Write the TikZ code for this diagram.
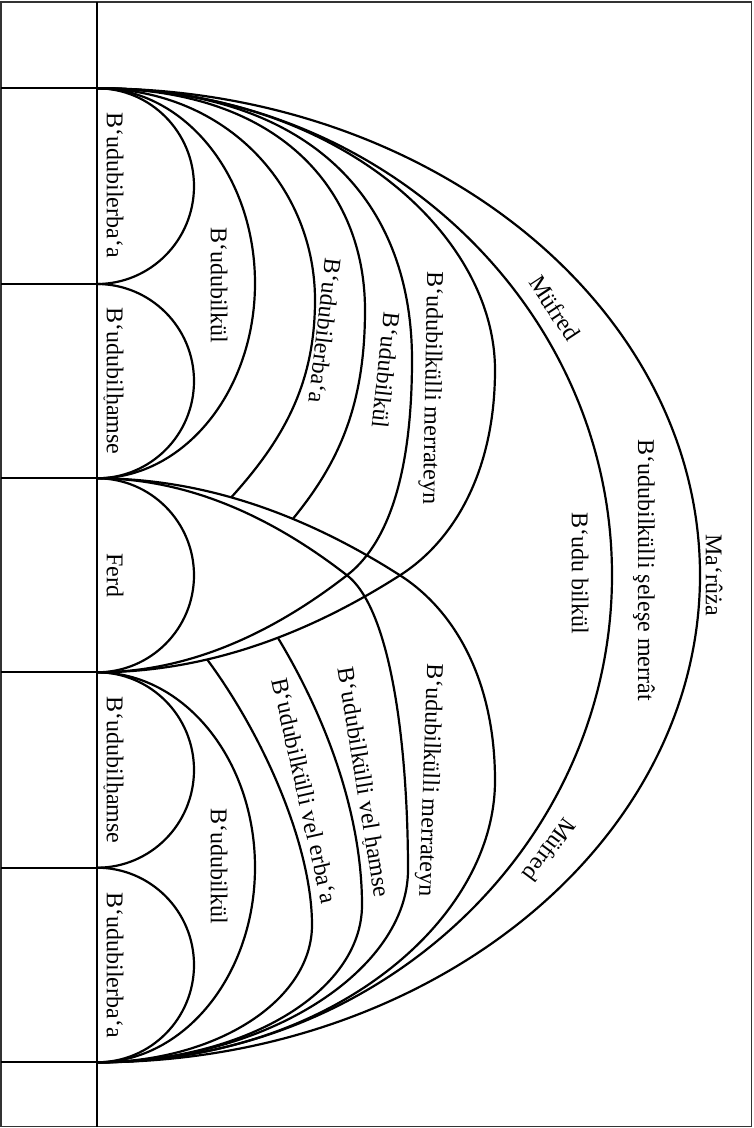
\documentclass[tikz,border=0pt]{standalone}
\usepackage{fontspec}
\setmainfont{Liberation Serif}
\newcommand\ay{‘}
\newcommand\hbr{h\llap{\makebox[0.5em]{\raisebox{-11pt}[0pt][0pt]{\fontsize{14}{14}\selectfont ˘}}}}
\begin{document}
\begin{tikzpicture}[x=1pt,y=-1pt,
  border/.style={line width=1.5pt, black!80},
  frame/.style={line width=2pt},
  arcline/.style={line width=2.2pt, line cap=round},
  lbl/.style={font=\fontsize{24}{28}\selectfont, inner sep=0pt, anchor=center}]
\useasboundingbox (0,0) rectangle (753,1128);
% frame and grid
\coordinate (tl) at (1,2); \coordinate (br) at (751.5,1126.5);
\draw[border] (tl) rectangle (br);
\coordinate (vt) at (97,2); \coordinate (vb) at (97,1126.5);
\draw[frame] (vt) -- (vb);
\coordinate (p0) at (97,88.3);  \coordinate (h0) at (1,88.3);
\coordinate (p1) at (97,284);   \coordinate (h1) at (1,284);
\coordinate (p2) at (97,478.3); \coordinate (h2) at (1,478.3);
\coordinate (p3) at (97,672.3); \coordinate (h3) at (1,672.3);
\coordinate (p4) at (97,867.7); \coordinate (h4) at (1,867.7);
\coordinate (p5) at (97,1062.3);\coordinate (h5) at (1,1062.3);
\foreach \i in {0,...,5} \draw[frame] (h\i) -- (p\i);
% small half ellipses
\draw[arcline] (p0) arc[start angle=-90,end angle=90,x radius=97,y radius=97.85];
\draw[arcline] (p1) arc[start angle=-90,end angle=90,x radius=97,y radius=97.15];
\draw[arcline] (p2) arc[start angle=-90,end angle=90,x radius=97,y radius=97];
\draw[arcline] (p3) arc[start angle=-90,end angle=90,x radius=97,y radius=97.7];
\draw[arcline] (p4) arc[start angle=-90,end angle=90,x radius=97,y radius=97.3];
% second level
\draw[arcline] (p0) arc[start angle=-90,end angle=90,x radius=158,y radius=195];
\draw[arcline] (p3) arc[start angle=-90,end angle=90,x radius=158,y radius=195];
% big arcs
\draw[arcline] (p0) arc[start angle=-90,end angle=90,x radius=515,y radius=487];
\draw[arcline] (p0) arc[start angle=-90,end angle=90,x radius=603,y radius=487];
% crossing arcs
\draw[arcline] (p0) .. controls (310,88.3) and (412,200) .. (412,360) .. controls (412,450) and (397,536.5) .. (347,575.3) .. controls (263.7,640) and (180.3,672.3) .. (p3);
\draw[arcline] (p5) .. controls (268.8,1062.3) and (408,968.5) .. (408,870) .. controls (408,760) and (394,612) .. (347,575.3) .. controls (263.7,510.6) and (180.3,478.3) .. (p2);
\draw[arcline] (p0) .. controls (330,88.3) and (495,230) .. (495,370) .. controls (495,470) and (455,540.2) .. (400,575.3) .. controls (298.7,640) and (198,672.3) .. (p3);
\draw[arcline] (p2) .. controls (198,478.3) and (298.7,510.6) .. (400,575.3) .. controls (455,610.4) and (495,680.6) .. (495,780.6) .. controls (495,920.6) and (330,1062.3) .. (p5);
% truncated upper arcs (end on the lower crossing arc)
\begin{scope}
\clip (p2) .. controls (198,478.3) and (298.7,510.6) .. (400,575.3) .. controls (455,610.4) and (495,680.6) .. (495,780.6) .. controls (495,920.6) and (330,1062.3) .. (p5) -- (97,1128) -- (753,1128) -- (753,0) -- (97,0) -- cycle;
\draw[arcline] (p0) .. controls (230,90) and (315,190) .. (315,300) .. controls (315,400) and (270,460) .. (200,530);
\draw[arcline] (p0) .. controls (280,88.3) and (365,190) .. (365,310) .. controls (365,420) and (330,480) .. (270,545);
\end{scope}
% truncated lower arcs (end on the upper crossing arc)
\begin{scope}
\clip (p3) .. controls (198,672.3) and (298.7,640) .. (400,575.3) .. controls (455,540.2) and (495,470) .. (495,370) .. controls (495,230) and (330,88.3) .. (p0) -- (97,0) -- (753,0) -- (753,1128) -- (97,1128) -- cycle;
\draw[arcline] (p5) .. controls (215.7,1062.3) and (312,1000.8) .. (312,925) .. controls (312,845) and (262,730) .. (200,650);
\draw[arcline] (p5) .. controls (243.4,1062.3) and (362,992.2) .. (362,905) .. controls (362,820) and (330,720) .. (270,625);
\end{scope}
% labels
\node[lbl,rotate=-90] (t1) at (115,185) {B\ay udubilerba\ay a};
\node[lbl,rotate=-90] (t2) at (115,381) {B\ay udubil\hbr amse};
\node[lbl,rotate=-90] (t3) at (115,575) {Ferd};
\node[lbl,rotate=-90] (t4) at (115,770) {B\ay udubil\hbr amse};
\node[lbl,rotate=-90] (t5) at (115,965) {B\ay udubilerba\ay a};
\node[lbl,rotate=-90] (t6) at (219,285) {B\ay udubilkül};
\node[lbl,rotate=-90] (t7) at (219,866) {B\ay udubilkül};
\node[lbl,rotate=-96.6] (t8) at (325,331) {B\ay udubilerba\ay a};
\node[lbl,rotate=-96] (t9) at (386,370) {B\ay udubilkül};
\node[lbl,rotate=-91] (t10) at (431,388) {B\ay udubilkülli merrateyn};
\node[lbl,rotate=-56.6] (t11) at (555,308) {Müfred};
\node[lbl,rotate=-90] (t12) at (644,570) {B\ay udubilkülli şeleşe merrât};
\node[lbl,rotate=-90] (t13) at (714,575) {Ma\ay rûża};
\node[lbl,rotate=-90] (t14) at (580,573) {B\ay udu bilkül};
\node[lbl,rotate=-77.4] (t15) at (305,791) {B\ay udubilkülli vel erba\ay a};
\node[lbl,rotate=-80.8] (t16) at (364,782) {B\ay udubilkülli vel \hbr amse};
\node[lbl,rotate=-92] (t17) at (429,780) {B\ay udubilkülli merrateyn};
\node[lbl,rotate=-126.7] (t18) at (550,850) {Müfred};
\end{tikzpicture}
\end{document}
